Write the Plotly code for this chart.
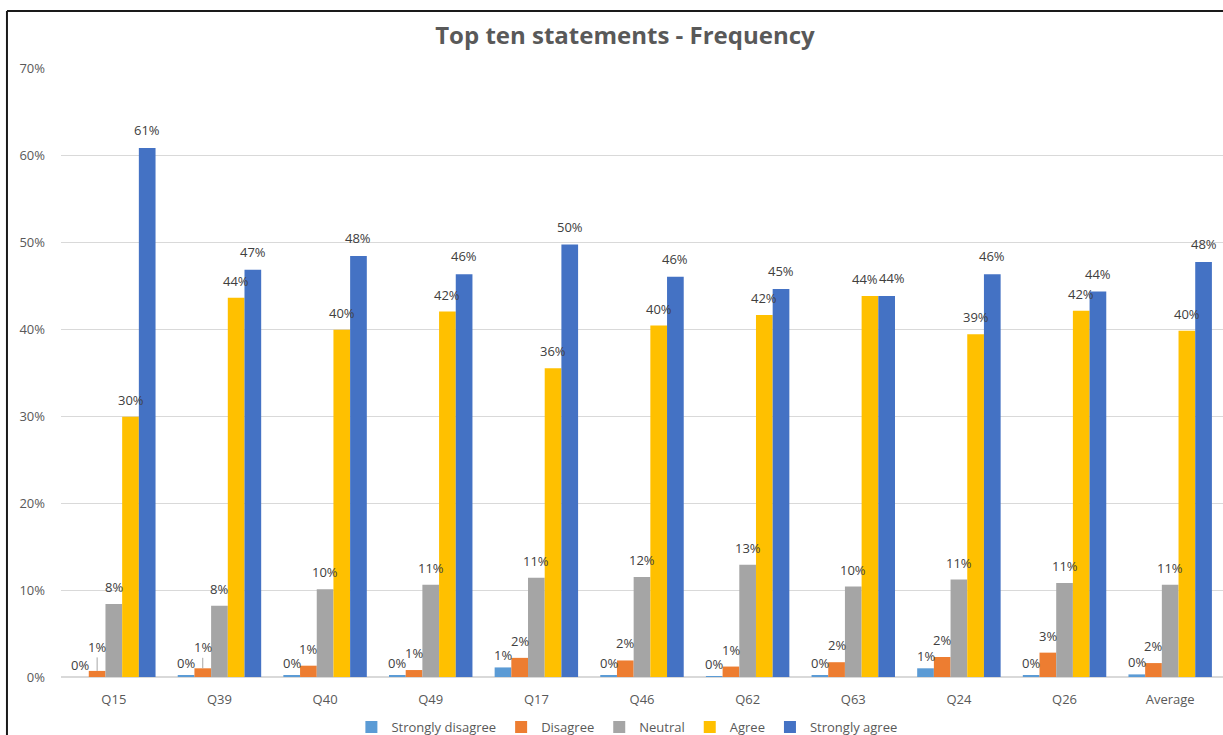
import plotly.graph_objects as go

# Survey statements and response-share per Likert level
statements = ["Q15", "Q39", "Q40", "Q49", "Q17", "Q46", "Q62", "Q63", "Q24", "Q26", "Average"]

strongly_disagree = [0.000, 0.002, 0.002, 0.002, 0.011, 0.002, 0.001, 0.002, 0.010, 0.002, 0.003]
disagree          = [0.007, 0.010, 0.013, 0.008, 0.022, 0.019, 0.012, 0.017, 0.023, 0.028, 0.016]
neutral           = [0.084, 0.082, 0.101, 0.106, 0.114, 0.115, 0.129, 0.104, 0.112, 0.108, 0.106]
agree             = [0.299, 0.436, 0.399, 0.420, 0.355, 0.404, 0.416, 0.438, 0.394, 0.421, 0.398]
strongly_agree    = [0.608, 0.468, 0.484, 0.463, 0.497, 0.460, 0.446, 0.438, 0.463, 0.443, 0.477]

series = [
    ("Strongly disagree", strongly_disagree, "#5b9bd5"),
    ("Disagree", disagree, "#ed7d31"),
    ("Neutral", neutral, "#a5a5a5"),
    ("Agree", agree, "#ffc000"),
    ("Strongly agree", strongly_agree, "#4472c4"),
]

FONT = "Open Sans"
BARGAP = 0.21
LABEL_FONT = dict(family=FONT, size=13, color="#404040")

# Per-series vertical lift of the value labels (px) and a few labels that
# are pushed up further with a leader line to clear their neighbours.
label_lift = [1, 6, 6, 6, 7]
raised = {("Disagree", "Q15"): 24, ("Disagree", "Q39"): 21}
# Labels nudged sideways where two equal-height bars sit together
nudge = {("Agree", "Q63"): -0.05, ("Strongly agree", "Q63"): 0.05}

fig = go.Figure()
n = len(series)
bar_w = (1 - BARGAP) / n
annotations = []
for k, (name, values, color) in enumerate(series):
    fig.add_trace(go.Bar(
        name=name,
        x=statements,
        y=values,
        marker=dict(color=color, line=dict(width=0)),
        cliponaxis=False,
    ))
    offset = (k - (n - 1) / 2) * bar_w
    for i, (cat, v) in enumerate(zip(statements, values)):
        xpos = i + offset + nudge.get((name, cat), 0)
        label = f"{v:.0%}"
        if (name, cat) in raised:
            annotations.append(dict(
                x=xpos, y=v, xref="x", yref="y", text=label,
                showarrow=True, arrowhead=0, arrowwidth=1, arrowcolor="#a6a6a6",
                ax=0, ay=-raised[(name, cat)], standoff=0,
                font=LABEL_FONT,
            ))
        else:
            annotations.append(dict(
                x=xpos, y=v, xref="x", yref="y", text=label,
                showarrow=False, yanchor="bottom", yshift=label_lift[k],
                font=LABEL_FONT,
            ))

# Frame around the chart (left and top edges)
frame = dict(type="line", xref="paper", yref="paper", line=dict(color="#1a1a1a", width=2))
fig.add_shape(**frame, x0=-0.0465, x1=-0.0465, y0=-0.2, y1=1.0936)
fig.add_shape(**frame, x0=-0.0465, x1=1.02, y0=1.0936, y1=1.0936)

fig.update_layout(
    width=1223,
    height=735,
    margin=dict(l=61, r=0, t=68, b=58, autoexpand=False),
    paper_bgcolor="white",
    plot_bgcolor="white",
    font=dict(family=FONT, size=13, color="#595959"),
    title=dict(
        text="<b>Top ten statements - Frequency</b>",
        x=0.511, xanchor="center",
        y=0.952, yanchor="middle",
        font=dict(family=FONT, size=24, color="#595959"),
    ),
    barmode="group",
    bargap=BARGAP,
    bargroupgap=0,
    annotations=annotations,
    showlegend=True,
    legend=dict(
        orientation="h",
        x=0.487, xanchor="center",
        y=-0.082, yanchor="middle",
        font=dict(family=FONT, size=13, color="#595959"),
        itemwidth=30,
        tracegroupgap=0,
    ),
    xaxis=dict(
        showgrid=False,
        showline=True,
        linecolor="#d9d9d9",
        linewidth=1,
        ticks="",
        ticklabelstandoff=10,
        tickfont=dict(family=FONT, size=13, color="#595959"),
    ),
    yaxis=dict(
        range=[0, 0.7],
        dtick=0.1,
        tickformat=".0%",
        showgrid=True,
        gridcolor="#d9d9d9",
        gridwidth=1,
        zeroline=True,
        zerolinecolor="#d9d9d9",
        ticks="",
        ticklabelstandoff=15,
        tickfont=dict(family=FONT, size=13, color="#595959"),
    ),
)

fig.write_html("out.html")
